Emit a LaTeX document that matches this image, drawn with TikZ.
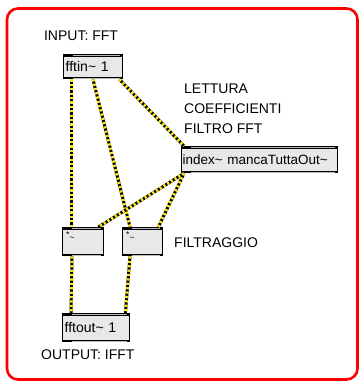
\documentclass[tikz,border=0pt]{standalone}
\usepackage{fontspec}
\setmainfont{Liberation Sans}
\usetikzlibrary{calc}
\definecolor{boxfill}{RGB}{232,232,232}
\definecolor{cordyellow}{RGB}{250,230,20}
\tikzset{
  maxobj/.style={draw=black, line width=1.4pt, fill=boxfill, anchor=north west,
    inner xsep=2pt, inner ysep=0pt, align=left, font=\fontsize{14}{15}\selectfont},
  lbl/.style={font=\fontsize{14}{15}\selectfont, inner sep=0pt},
  cordbase/.style={line width=3pt, black},
  cordtop/.style={line width=3pt, cordyellow, dash pattern=on 2.2pt off 2.2pt},
  multxt/.style={font=\fontsize{8.5}{8.5}\selectfont, inner sep=0pt, anchor=west}
}
\newcommand{\cord}[2]{%
  \draw[cordbase] #1 -- #2;
  \draw[cordtop] #1 -- #2;}
\begin{document}
\begin{tikzpicture}[x=1pt,y=-1pt]
\useasboundingbox (0,0) rectangle (360,381);
\fill[white] (0,0) rectangle (360,381);
\draw[red, line width=2.6pt, rounded corners=11pt] (7,8.5) rectangle (357.5,379.5);

% labels
\node[lbl] (lin) at (81,36) {INPUT: FFT};
\node[lbl, anchor=west] (l1) at (184,89) {LETTURA};
\node[lbl, anchor=west] (l2) at (184,108.5) {COEFFICIENTI};
\node[lbl, anchor=west] (l3) at (184,128.5) {FILTRO FFT};
\node[lbl, anchor=west] (lfil) at (174,242.5) {FILTRAGGIO};
\node[lbl, anchor=west] (lout) at (41,355) {OUTPUT: IFFT};

% objects
\node[maxobj, minimum width=59pt, minimum height=24pt, text width=55pt] (fftin) at (63,54) {fftin\textasciitilde{} 1};
\node[maxobj, minimum width=156pt, minimum height=26pt, text width=154pt, inner xsep=1pt, font=\fontsize{13.5}{14}\selectfont] (index) at (181,146) {index\textasciitilde{} mancaTuttaOut\textasciitilde};
\node[maxobj, minimum width=41pt, minimum height=28pt, text width=37pt] (mul1) at (62,227) {};
\node[maxobj, minimum width=40pt, minimum height=28pt, text width=36pt] (mul2) at (122,227) {};
\node[maxobj, minimum width=67pt, minimum height=28pt, text width=63pt] (fftout) at (62,313) {fftout\textasciitilde{} 1};

\node[multxt] (m1t) at (66,236) {*\raisebox{-2.5pt}{\textasciitilde}};
\node[multxt] (m2t) at (126,236) {*\raisebox{-2.5pt}{\textasciitilde}};

% top / bottom strips
\foreach \n in {fftin,index,mul1,mul2,fftout}{
  \fill[black] (\n.north west) rectangle ([yshift=-3.2pt]\n.north east);
  \draw[gray!55, line width=0.9pt] ([xshift=10pt,yshift=-1.7pt]\n.north west) -- ([xshift=-3pt,yshift=-1.7pt]\n.north east);
  \fill[black] (\n.south west) rectangle ([yshift=2.6pt]\n.south east);
  \draw[gray!55, line width=0.8pt] ([xshift=10pt,yshift=1.3pt]\n.south west) -- ([xshift=-3pt,yshift=1.3pt]\n.south east);
}

% cords
\cord{($(fftin.south west)+(8,0)$)}{($(mul1.north west)+(9,0)$)}
\cord{($(fftin.south west)+(30,0)$)}{($(mul2.north west)+(8,0)$)}
\cord{($(fftin.south east)+(-4,0)$)}{($(index.north west)+(3,0)$)}
\cord{($(index.south west)+(3,0)$)}{($(mul1.north east)+(-6,0)$)}
\cord{($(index.south west)+(3,0)$)}{($(mul2.north east)+(-5,0)$)}
\cord{($(mul1.south west)+(10,0)$)}{($(fftout.north west)+(9,0)$)}
\cord{($(mul2.south west)+(8,0)$)}{($(fftout.north east)+(-5,0)$)}
\end{tikzpicture}
\end{document}
